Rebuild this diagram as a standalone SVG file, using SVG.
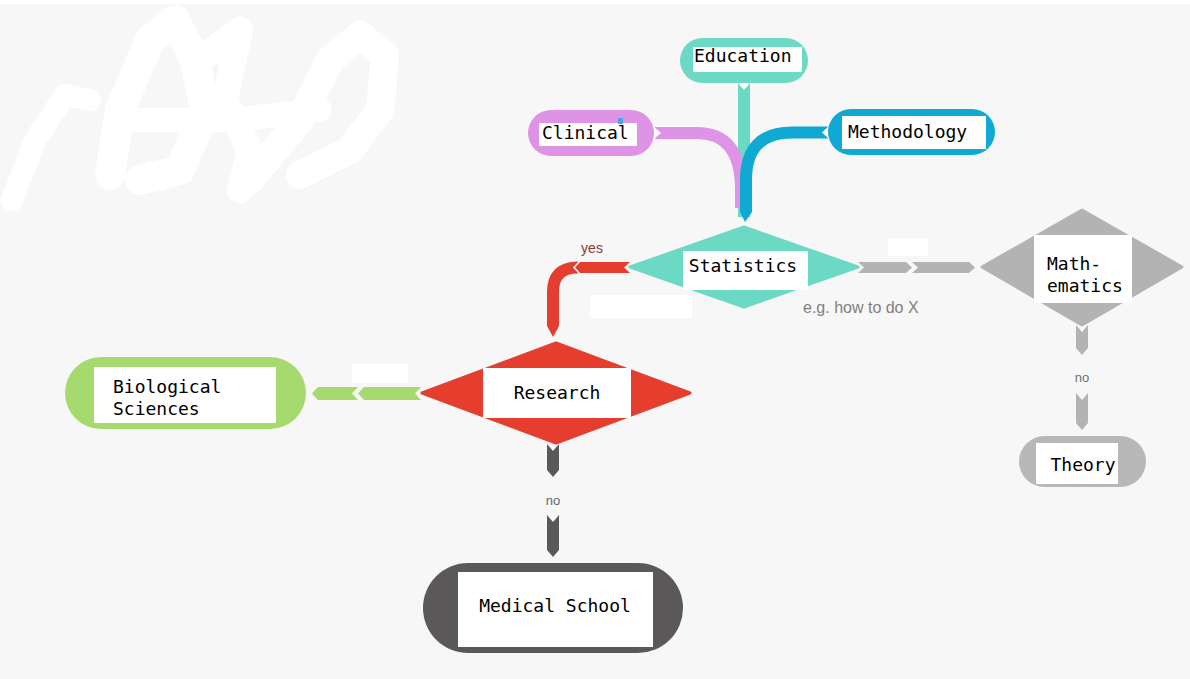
<svg xmlns="http://www.w3.org/2000/svg" width="1190" height="679" viewBox="0 0 1190 679">
<defs>
<style>
.lbl{font-family:"DejaVu Sans Mono","Liberation Mono",monospace;font-size:18px;fill:#000}
.small{font-family:"Liberation Sans",Arial,sans-serif}
.box{fill:#fff}
.notch{fill:#fff}
</style>
</defs>
<rect x="0" y="0" width="1190" height="679" fill="#f7f7f7"/>
<rect x="0" y="0" width="1190" height="4" fill="#fff"/>
<g id="scribble" fill="none" stroke="#fff" stroke-linecap="round" stroke-linejoin="round">
<path d="M 12 200 L 35 140 L 65 95 L 90 100" stroke-width="22"/>
<path d="M 110 175 L 120 110 L 150 40 L 175 20 L 195 60 L 205 110 L 180 170 L 140 180" stroke-width="30"/>
<path d="M 200 60 L 240 30 L 225 100 L 250 150 L 240 190" stroke-width="26"/>
<path d="M 250 180 L 300 120 L 330 60 L 360 35 L 385 55 L 380 110 L 350 150 L 300 175" stroke-width="28"/>
<path d="M 120 120 L 230 120 L 320 110" stroke-width="24"/>
</g>
<g id="patches" fill="#fff">
<rect x="590" y="295" width="102" height="23"/>
<rect x="888" y="238" width="40" height="18"/>
<rect x="352" y="364" width="56" height="19"/>
</g>
<g id="connectors">
<rect x="738" y="83" width="12" height="134" fill="#6cd9c5"/>
<polygon class="notch" points="738,83 744,90 750,83"/>
<path d="M 655 133 L 697 133 Q 739 133 741 185 L 741 208" fill="none" stroke="#de93e6" stroke-width="12"/>
<polygon class="notch" points="654,127 661,133 654,139"/>
<path d="M 828 132.5 L 792 132.5 Q 746 132.5 746 180 L 746 212" fill="none" stroke="#10a9d3" stroke-width="12"/>
<polygon points="740,212 745,222 752,212" fill="#10a9d3"/>
<polygon class="notch" points="829,126 822,132.5 829,139"/>
<path d="M 578 267.5 Q 553 267.5 553 292 L 553 326" fill="none" stroke="#e53e2f" stroke-width="12"/>
<polygon points="547,326 553,337 559,326" fill="#e53e2f"/>
<polygon points="630,262 579,262 573,267.5 579,273 630,273 624,267.5" fill="#e53e2f"/>
<polyline points="580,261 574,267.5 580,274" fill="none" stroke="#fff" stroke-width="1.5"/>
<text x="592" y="253" class="small" font-size="14" fill="#8a3b36" text-anchor="middle">yes</text>
<polygon points="858,262 906,262 912,267.5 906,273 858,273 864,267.5" fill="#b3b3b3"/>
<polygon points="912,262 969,262 975,267.5 969,273 912,273 918,267.5" fill="#b3b3b3"/>
<text x="803" y="313" class="small" font-size="16" fill="#808080">e.g. how to do X</text>
<polygon points="1076,325 1082,332 1088,325 1088,348 1082,355 1076,348" fill="#b3b3b3"/>
<polygon points="1076,393 1082,400 1088,393 1088,423 1082,430 1076,423" fill="#b3b3b3"/>
<text x="1082" y="382" class="small" font-size="13" fill="#707070" text-anchor="middle">no</text>
<polygon points="421,387 364,387 358,393.5 364,400 421,400 415,393.5" fill="#a6da6e"/>
<polygon points="358,387 318,387 312,393.5 318,400 358,400 352,393.5" fill="#a6da6e"/>
<polygon points="547,444 553,451 559,444 559,470 553,477 547,470" fill="#595959"/>
<polygon points="547,515 553,522 559,515 559,550 553,557 547,550" fill="#595959"/>
<text x="553" y="505" class="small" font-size="13" fill="#666" text-anchor="middle">no</text>
</g>
<g id="education">
<rect x="680" y="38" width="128" height="45" rx="22.5" fill="#6cd9c5"/>
<rect class="box" x="693" y="47" width="109" height="25"/>
<text class="lbl" x="694" y="62">Education</text>
</g>
<g id="clinical">
<rect x="528" y="110" width="126" height="46" rx="23" fill="#de93e6"/>
<rect class="box" x="539" y="123" width="98" height="23"/>
<rect x="618" y="118" width="5" height="6" fill="#4aa3f0"/>
<text class="lbl" x="542" y="139">Clinical</text>
</g>
<g id="methodology">
<rect x="828" y="109" width="167" height="46" rx="23" fill="#10a9d3"/>
<rect class="box" x="842" y="116" width="144" height="33"/>
<text class="lbl" x="848" y="138">Methodology</text>
</g>
<g id="statistics">
<polygon points="630,267 744,227 858,267 744,307" fill="#6cd9c5" stroke="#6cd9c5" stroke-width="3" stroke-linejoin="round"/>
<rect class="box" x="683" y="251" width="125" height="39"/>
<text class="lbl" x="743" y="272" text-anchor="middle">Statistics</text>
</g>
<g id="mathematics">
<polygon points="982,267 1082,210 1182,267 1082,325" fill="#b3b3b3" stroke="#b3b3b3" stroke-width="3" stroke-linejoin="round"/>
<rect class="box" x="1034" y="235" width="98" height="68"/>
<text class="lbl" x="1047" y="270">Math-</text>
<text class="lbl" x="1047" y="292">ematics</text>
</g>
<g id="theory">
<rect x="1019" y="436" width="127" height="51" rx="25.5" fill="#b8b8b8"/>
<rect class="box" x="1036" y="443" width="82" height="41"/>
<text class="lbl" x="1083" y="471" text-anchor="middle">Theory</text>
</g>
<g id="research">
<polygon points="422,393 556,343 690,393 556,443" fill="#e53e2f" stroke="#e53e2f" stroke-width="3" stroke-linejoin="round"/>
<rect class="box" x="483" y="368" width="148" height="50"/>
<text class="lbl" x="557" y="399" text-anchor="middle">Research</text>
</g>
<g id="biological">
<rect x="65" y="357" width="241" height="72" rx="36" fill="#a6da6e"/>
<rect class="box" x="94" y="367" width="182" height="56"/>
<text class="lbl" x="113" y="393">Biological</text>
<text class="lbl" x="113" y="415">Sciences</text>
</g>
<g id="medical">
<rect x="423" y="563" width="260" height="90" rx="45" fill="#5a5858"/>
<rect class="box" x="458" y="572" width="195" height="75"/>
<text class="lbl" x="555" y="612" text-anchor="middle">Medical School</text>
</g>
</svg>
